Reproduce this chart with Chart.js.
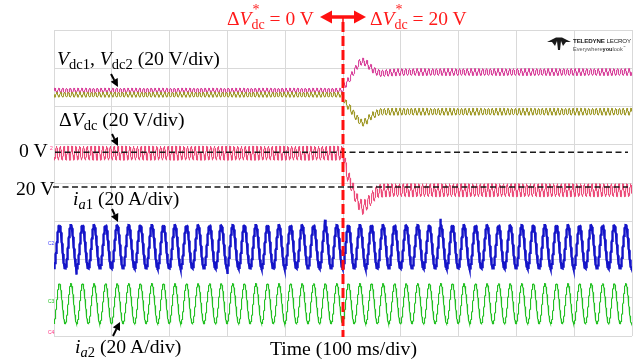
<!DOCTYPE html>
<html>
<head>
<meta charset="utf-8">
<script src="https://cdn.jsdelivr.net/npm/chart.js@4/dist/chart.umd.min.js"></script>
<style>
html,body{margin:0;padding:0;background:#fff;}
#wrap{position:relative;width:639px;height:362px;overflow:hidden;background:#fff;}
#c{position:absolute;left:0;top:0;}
.lbl{position:absolute;font-family:"Liberation Serif","Times New Roman",serif;font-size:19.7px;line-height:19.7px;white-space:nowrap;color:#000;}
.lbl sub{font-size:14.5px;vertical-align:-4px;line-height:0;}
.red{color:#ff1a1a;font-size:19.5px;line-height:19.5px;}
.ss{position:relative;display:inline-block;}
.ss .sb{font-size:14px;position:relative;top:4px;}
.ss .sp{position:absolute;left:1px;top:-9px;font-size:14px;}
.logo1{position:absolute;font-family:"Liberation Sans",Arial,sans-serif;font-size:6.2px;line-height:7px;white-space:nowrap;color:#222;letter-spacing:-0.15px;}
.logo2{position:absolute;font-family:"Liberation Sans",Arial,sans-serif;font-size:5.6px;line-height:6px;white-space:nowrap;color:#555;}
.ch{position:absolute;font-family:"Liberation Sans",Arial,sans-serif;font-size:5px;line-height:5px;}
</style>
</head>
<body>
<div id="wrap">
<canvas id="c" width="639" height="362"></canvas>

<div class="lbl" style="left:57px;top:48.5px;"><i>V</i><sub>dc1</sub>, <i>V</i><sub>dc2</sub> (20 V/div)</div>
<div class="lbl" style="left:59px;top:109.5px;">Δ<i>V</i><sub>dc</sub> (20 V/div)</div>
<div class="lbl" style="left:19px;top:140.5px;">0 V</div>
<div class="lbl" style="left:16px;top:178.5px;">20 V</div>
<div class="lbl" style="left:73px;top:188.5px;"><i>i</i><sub><i>a</i>1</sub> (20 A/div)</div>
<div class="lbl" style="left:75px;top:336.5px;"><i>i</i><sub><i>a</i>2</sub> (20 A/div)</div>
<div class="lbl" style="left:270px;top:338.5px;">Time (100 ms/div)</div>

<div class="lbl red" style="left:227px;top:8.7px;">Δ<i>V</i><span class="ss"><span class="sp">*</span><span class="sb">dc</span></span> = 0 V</div>
<div class="lbl red" style="left:370px;top:8.7px;">Δ<i>V</i><span class="ss"><span class="sp">*</span><span class="sb">dc</span></span> = 20 V</div>

<div class="logo1" style="left:573px;top:36.5px;"><b>TELEDYNE</b> LECROY</div>
<div class="logo2" style="left:573px;top:43.5px;">Everywhere<b style="color:#222">you</b>look<sup style="font-size:3px">™</sup></div>

<div class="ch" style="left:48px;top:241px;color:#4040ff;">C2</div>
<div class="ch" style="left:48px;top:299px;color:#20c020;">C3</div>
<div class="ch" style="left:48px;top:330px;color:#ff3080;">C4</div>
<div class="ch" style="left:50px;top:146px;color:#ff3080;">2</div>
</div>

<script>
// ---------------- data ----------------
// time axis: 100 ms/div, 10 divisions, step of the reference at 0.5 s
const timeRange = [0, 1.0];          // s
const timeDivs = 10;
const stepTime = 0.5;                // s
const acFreq = 50;                   // Hz, phase currents
const rippleFreq = 150;              // Hz, dc-link ripple
const sampleCount = 5000;

// Vdc1 mean deviation (V) vs time (s)
const vdc1Time  = [0, 0.5, 0.502, 0.510, 0.520, 0.528, 0.534, 0.540, 0.548, 0.556, 0.566, 0.580, 0.600, 1.0];
const vdc1Level = [0, 0,   2.4,   5.5,   10.5,  14.5,  15.4,  14.5,  12.0,  10.0,  9.0,   9.4,   9.7,   9.7];
const vdc1Ripple = [1.3, 1.8];       // V amplitude before / after step

// Vdc2 mean deviation (V) vs time (s)
const vdc2Time  = [0, 0.5, 0.503, 0.512, 0.524, 0.533, 0.540, 0.547, 0.556, 0.564, 0.580, 1.0];
const vdc2Level = [0, 0,  -3.8,  -7.1,  -12.3, -14.9, -14.0, -11.6, -10.0, -9.0,  -8.9,  -8.9];
const vdc2Ripple = [1.3, 1.8];

// ΔVdc (V) vs time (s)
const dVdcTime  = [0,   0.5, 0.508, 0.515, 0.524, 0.534, 0.547, 0.559, 0.573, 1.0];
const dVdcLevel = [0.5, 0.5, 12.0,  17.3,  25.0,  29.3,  25.0,  20.5,  19.9,  19.9];
const dVdcRipple = [3.7, 3.4];

// phase currents (A)
const ia1Amplitude = 11.3;
const ia2Amplitude = 10.5;
const currentPeakTime = 0.0095;      // s, first positive peak
const ia1Glitches = [[0.0385, -3.7], [0.300, -3.0], [0.382, -2.5], [0.469, 3.0], [0.669, 3.5]]; // [s, A]

// reference dashed lines on the ΔVdc channel (V)
const refLevels = [0, 18.2];

// channel settings: screen offset (div from bottom) and units per division
const chVdc1 = {offset: 6.416, perDiv: 20};
const chVdc2 = {offset: 6.31,  perDiv: 20};
const chDVdc = {offset: 4.806, perDiv: -20};   // inverted display
const chIa1  = {offset: 2.332, perDiv: 20};
const chIa2  = {offset: 0.846, perDiv: 20};

// ---------------- build traces ----------------
function levelAt(ts, vs, t){
  if (t <= ts[0]) return vs[0];
  for (let i = 1; i < ts.length; i++){
    if (t <= ts[i]){
      const f = (t - ts[i-1]) / (ts[i] - ts[i-1]);
      return vs[i-1] + f * (vs[i] - vs[i-1]);
    }
  }
  return vs[vs.length-1];
}
function toDiv(ch, v){ return ch.offset + v / ch.perDiv; }

const vdc1Pts = [], vdc2Pts = [], dVdcPts = [], ia1Pts = [], ia2Pts = [];
const glitchIdx = ia1Glitches.map(g => [Math.round(g[0] * sampleCount), g[1]]);
for (let i = 0; i <= sampleCount; i++){
  const t = timeRange[0] + (timeRange[1] - timeRange[0]) * i / sampleCount;
  const after = t >= stepTime ? 1 : 0;
  const rp = Math.sin(2 * Math.PI * rippleFreq * t);
  vdc1Pts.push({x: t, y: toDiv(chVdc1, levelAt(vdc1Time, vdc1Level, t) + vdc1Ripple[after] * rp)});
  vdc2Pts.push({x: t, y: toDiv(chVdc2, levelAt(vdc2Time, vdc2Level, t) - vdc2Ripple[after] * rp)});
  dVdcPts.push({x: t, y: toDiv(chDVdc, levelAt(dVdcTime, dVdcLevel, t) + dVdcRipple[after] * Math.sin(2 * Math.PI * rippleFreq * t + 0.6))});
  const ph = Math.cos(2 * Math.PI * acFreq * (t - currentPeakTime));
  let g = 0;
  for (const gi of glitchIdx) if (gi[0] === i) g += gi[1];
  ia1Pts.push({x: t, y: toDiv(chIa1, ia1Amplitude * ph + g)});
  ia2Pts.push({x: t, y: toDiv(chIa2, ia2Amplitude * ph)});
}

// ---------------- overlay drawing ----------------
function arrow(ctx, x1, y1, x2, y2, hl, hw, lw, col){
  const a = Math.atan2(y2 - y1, x2 - x1);
  const bx = x2 - hl * Math.cos(a), by = y2 - hl * Math.sin(a);
  ctx.save();
  ctx.strokeStyle = col; ctx.fillStyle = col; ctx.lineWidth = lw; ctx.setLineDash([]);
  ctx.beginPath(); ctx.moveTo(x1, y1); ctx.lineTo(bx, by); ctx.stroke();
  ctx.beginPath();
  ctx.moveTo(x2, y2);
  ctx.lineTo(bx + hw/2 * Math.sin(a), by - hw/2 * Math.cos(a));
  ctx.lineTo(bx - hw/2 * Math.sin(a), by + hw/2 * Math.cos(a));
  ctx.closePath(); ctx.fill();
  ctx.restore();
}

const overlay = {
  id: 'overlay',
  afterDatasetsDraw(chart){
    const ctx = chart.ctx, xs = chart.scales.x, ys = chart.scales.y, ca = chart.chartArea;
    // black dashed reference lines
    ctx.save();
    ctx.strokeStyle = '#1a1a1a'; ctx.lineWidth = 1.5; ctx.setLineDash([6, 3.5]);
    refLevels.forEach((lv, k) => {
      const py = ys.getPixelForValue(toDiv(chDVdc, lv));
      ctx.beginPath(); ctx.moveTo(ca.left - (k ? 1 : -1), py); ctx.lineTo(ca.right - 4, py); ctx.stroke();
    });
    ctx.restore();
    // red dashed step line
    const sx = xs.getPixelForValue(stepTime);
    ctx.save();
    ctx.strokeStyle = '#ff1010'; ctx.lineWidth = 3; ctx.setLineDash([10, 4]);
    ctx.beginPath(); ctx.moveTo(sx, 22); ctx.lineTo(sx, ca.bottom + 1); ctx.stroke();
    ctx.setLineDash([]);
    ctx.lineWidth = 1.5;
    ctx.beginPath(); ctx.moveTo(sx, 17); ctx.lineTo(sx, 24); ctx.stroke();
    ctx.restore();
    // red double arrow
    arrow(ctx, sx, 17, sx + 23, 17, 12, 13, 3.5, '#ff1010');
    arrow(ctx, sx, 17, sx - 23, 17, 12, 13, 3.5, '#ff1010');
    // black label arrows
    arrow(ctx, 111, 74, 118, 87, 8, 8, 2, '#000');
    arrow(ctx, 112, 134, 118, 146, 8, 8, 2, '#000');
    arrow(ctx, 112, 209, 118, 222, 8, 8, 2, '#000');
    arrow(ctx, 113, 336, 120, 322, 8, 8, 2, '#000');
    // logo emblem
    ctx.save();
    ctx.fillStyle = '#1a1a1a';
    ctx.beginPath();
    ctx.moveTo(547, 42); ctx.lineTo(556, 37.5); ctx.lineTo(562, 37.5); ctx.lineTo(571, 42);
    ctx.lineTo(566, 42); ctx.lineTo(563, 46); ctx.lineTo(561, 41); ctx.lineTo(560, 50);
    ctx.lineTo(558, 50); ctx.lineTo(557, 41); ctx.lineTo(555, 46); ctx.lineTo(552, 42);
    ctx.closePath(); ctx.fill();
    ctx.restore();
  }
};

new Chart(document.getElementById('c'), {
  type: 'line',
  data: {
    datasets: [
      {label: 'Vdc2', data: vdc2Pts, borderColor: '#a09a2a', borderWidth: 1},
      {label: 'Vdc1', data: vdc1Pts, borderColor: '#d8409a', borderWidth: 1},
      {label: 'ΔVdc', data: dVdcPts, borderColor: '#ec4a78', borderWidth: 1},
      {label: 'ia1', data: ia1Pts, borderColor: '#1414c8', borderWidth: 2.4},
      {label: 'ia2', data: ia2Pts, borderColor: '#22c022', borderWidth: 1.1}
    ]
  },
  options: {
    responsive: false,
    animation: false,
    events: [],
    layout: {padding: {left: 54, right: 7, top: 30, bottom: 26}},
    elements: {point: {radius: 0}, line: {tension: 0}},
    plugins: {legend: {display: false}, tooltip: {enabled: false}},
    scales: {
      x: {type: 'linear', min: timeRange[0], max: timeRange[1],
          ticks: {display: false, stepSize: (timeRange[1] - timeRange[0]) / timeDivs},
          grid: {color: '#d9d9d9', drawTicks: false, lineWidth: 1},
          border: {display: false}},
      y: {type: 'linear', min: 0, max: 8,
          ticks: {display: false, stepSize: 1},
          grid: {color: '#d9d9d9', drawTicks: false, lineWidth: 1},
          border: {display: false}}
    }
  },
  plugins: [overlay]
});
</script>
</body>
</html>
